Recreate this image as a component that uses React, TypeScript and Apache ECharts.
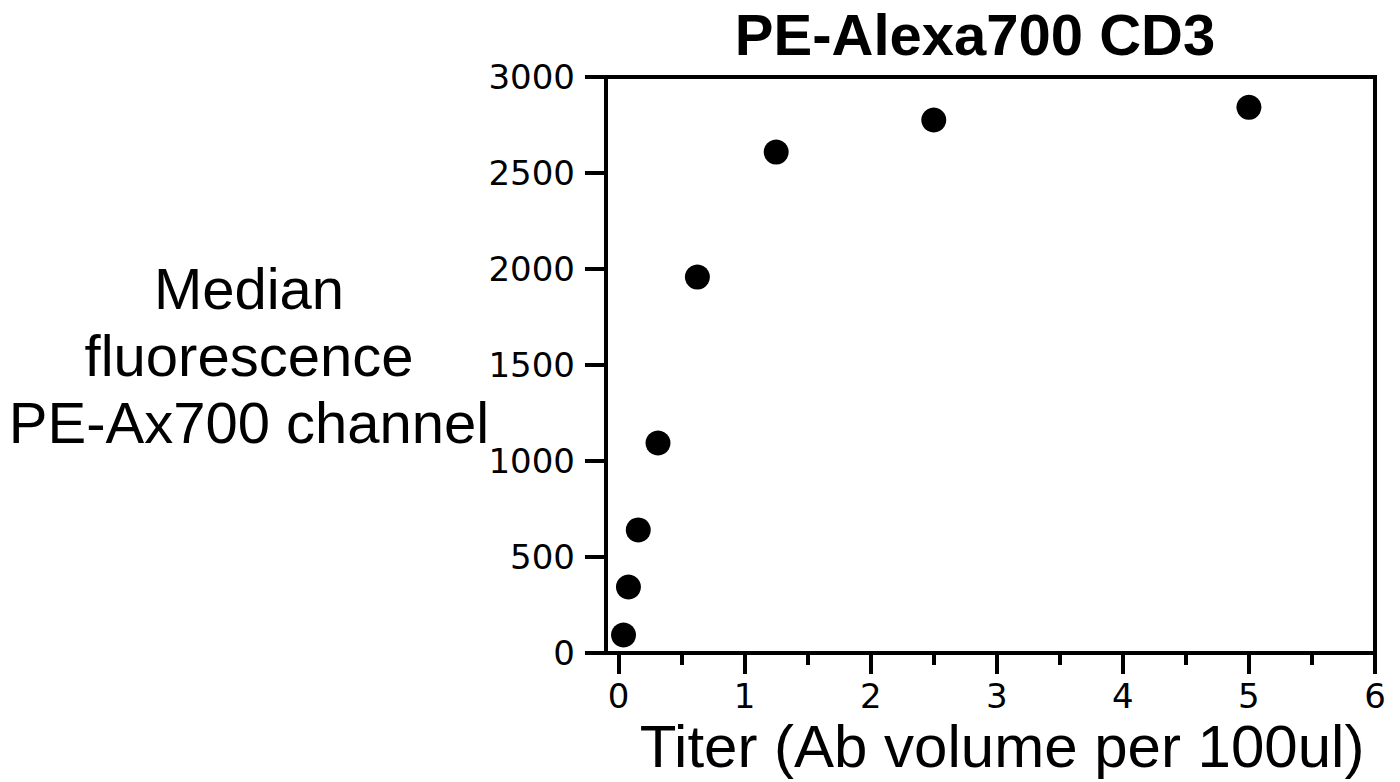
import React, { useEffect, useRef } from "react";
import * as echarts from "echarts";

const titers = [0.039, 0.078, 0.156, 0.3125, 0.625, 1.25, 2.5, 5];
const medianFluor = [94, 344, 641, 1094, 1958, 2609, 2776, 2842];
const xMajorTicks = [0, 1, 2, 3, 4, 5, 6];
const xMinorTicks = [0.5, 1.5, 2.5, 3.5, 4.5, 5.5];
const chartTitle = "PE-Alexa700 CD3";
const xTitle = "Titer (Ab volume per 100ul)";
const yTitle = "Median\nfluorescence\nPE-Ax700 channel";

export default function App() {
  const ref = useRef<HTMLDivElement>(null);
  useEffect(() => {
    if (!ref.current) return;
    const chart = echarts.init(ref.current, undefined, { renderer: "svg" });
    const tickFont = { fontFamily: "DejaVu Sans", fontSize: 34, color: "#000" };
    chart.setOption({
      animation: false,
      backgroundColor: "#fff",
      grid: {
        left: 606,
        right: 25,
        top: 77,
        bottom: 129,
        show: true,
        borderColor: "#000",
        borderWidth: 4,
        outerBoundsMode: "none",
      },
      xAxis: [
        {
          type: "value",
          min: -0.1,
          max: 6,
          position: "bottom",
          axisLine: { show: true, onZero: false, lineStyle: { color: "#000", width: 4 } },
          axisTick: { show: true, customValues: xMajorTicks, length: 21, lineStyle: { color: "#000", width: 4 } },
          axisLabel: { show: true, customValues: xMajorTicks, margin: 26, formatter: (v: number) => String(v), ...tickFont },
          splitLine: { show: false },
        },
        {
          type: "value",
          min: -0.1,
          max: 6,
          position: "bottom",
          axisLine: { show: false, onZero: false },
          axisTick: { show: true, customValues: xMinorTicks, length: 12, lineStyle: { color: "#000", width: 4 } },
          axisLabel: { show: false },
          splitLine: { show: false },
        },
      ],
      yAxis: {
        type: "value",
        min: 0,
        max: 3000,
        interval: 500,
        axisLine: { show: true, onZero: false, lineStyle: { color: "#000", width: 4 } },
        axisTick: { show: true, length: 21, lineStyle: { color: "#000", width: 4 } },
        axisLabel: { margin: 31, formatter: (v: number) => String(v), ...tickFont },
        splitLine: { show: false },
      },
      graphic: [
        {
          type: "text",
          x: 975,
          y: 34,
          style: {
            text: chartTitle,
            fontFamily: "Liberation Sans",
            fontWeight: "bold",
            fontSize: 58,
            fill: "#000",
            textAlign: "center",
            textVerticalAlign: "middle",
          },
        },
        {
          type: "text",
          x: 1002,
          y: 746,
          style: {
            text: xTitle,
            fontFamily: "Liberation Sans",
            fontSize: 60,
            fill: "#000",
            textAlign: "center",
            textVerticalAlign: "middle",
          },
        },
        {
          type: "text",
          x: 249,
          y: 355,
          style: {
            text: yTitle,
            fontFamily: "Liberation Sans",
            fontSize: 58,
            lineHeight: 67,
            fill: "#000",
            textAlign: "center",
            textVerticalAlign: "middle",
          },
        },
      ],
      series: [
        {
          type: "scatter",
          xAxisIndex: 0,
          yAxisIndex: 0,
          symbol: "circle",
          symbolSize: 25,
          itemStyle: { color: "#000", opacity: 1 },
          data: titers.map((t, i) => [t, medianFluor[i]]),
        },
      ],
    });
    return () => chart.dispose();
  }, []);
  return (
    <div
      ref={ref}
      style={{ position: "absolute", left: 0, top: 0, width: 1400, height: 782 }}
    />
  );
}
